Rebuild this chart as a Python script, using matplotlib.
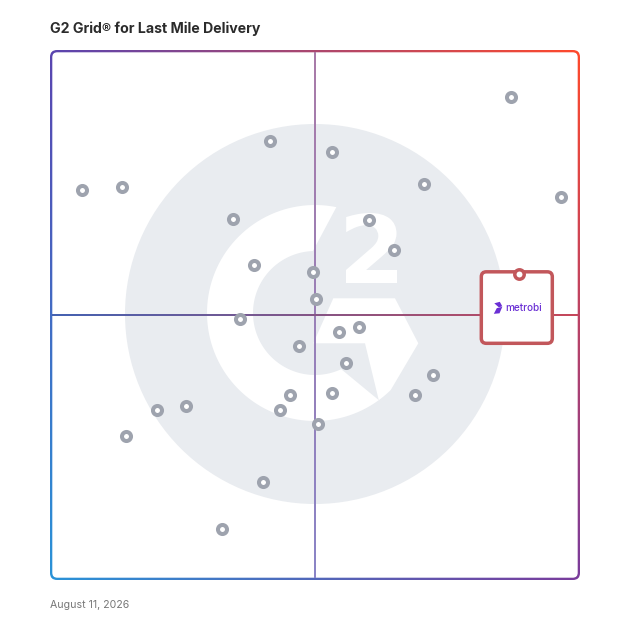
import numpy as np
import matplotlib
matplotlib.use('Agg')
import matplotlib.pyplot as plt
import matplotlib.colors as mcolors
from matplotlib.patches import FancyBboxPatch, Circle, Polygon, PathPatch
from matplotlib.collections import LineCollection
from matplotlib.textpath import TextPath
from matplotlib.font_manager import FontProperties
from matplotlib.transforms import Affine2D

# ---------------- data ----------------
title = "G2 Grid\u00ae for Last Mile Delivery"
date_label = "August 11, 2026"
# satisfaction (x) and market presence (y), 0-100 scale
satisfaction = [87.1, 41.4, 53.2, 5.9, 13.4, 70.6, 96.6, 34.5, 60.2, 38.4,
                65.0, 49.6, 50.1, 35.8, 54.6, 58.3, 46.9, 55.9, 72.4, 68.9,
                53.3, 45.2, 43.4, 25.6, 20.1, 14.2, 50.6, 40.2, 32.4]
presence = [91.3, 82.9, 80.9, 73.7, 74.2, 74.8, 72.3, 68.2, 67.9, 59.5,
            62.3, 58.2, 53.0, 49.3, 46.8, 47.7, 44.1, 41.0, 38.6, 34.8,
            35.2, 34.8, 32.0, 32.8, 32.0, 27.1, 29.4, 18.4, 9.5]
featured_name = "metrobi"
featured_sat = 88.6
featured_pres = 57.8

W = 628
fig = plt.figure(figsize=(6.28, 6.28), dpi=100)
fig.patch.set_facecolor('white')

# background / decoration axes in pixel units
bg = fig.add_axes([0, 0, 1, 1], zorder=0)

# gradient frame
n = 256
u = np.linspace(0, 1, n)
TL, TR, BL, BR = [np.array(mcolors.to_rgb(c)) for c in ('#5a45b0', '#ff4a2c', '#2a93d8', '#7a3c9c')]
top = (1 - u)[:, None] * TL + u[:, None] * TR
bot = (1 - u)[:, None] * BL + u[:, None] * BR
img = (1 - u)[:, None, None] * top[None, :, :] + u[:, None, None] * bot[None, :, :]
im = bg.imshow(img, extent=(50, 580, 580, 50), origin='upper', interpolation='bilinear',
               zorder=1, aspect='auto')
frame = FancyBboxPatch((50, 50), 530, 530, boxstyle='round,pad=0,rounding_size=7',
                       facecolor='none', edgecolor='none', transform=bg.transData)
bg.add_patch(frame)
im.set_clip_path(frame)
inner = FancyBboxPatch((52.3, 52.3), 525.4, 525.4, boxstyle='round,pad=0,rounding_size=5',
                       facecolor='white', edgecolor='none', zorder=2)
bg.add_patch(inner)

# G2 watermark
def arc(cx, cy, r, a0, a1, k=90):
    th = np.radians(np.linspace(a0, a1, k))
    return np.c_[cx + r * np.cos(th), cy - r * np.sin(th)]

bg.add_patch(Circle((315, 314), 190, facecolor='#e9ecf0', edgecolor='none', zorder=3))
cx, cy, Ro, Ri = 315, 313, 108, 62
polyA = np.vstack([arc(cx, cy, Ro, 78.6, 306.2), arc(cx, cy, Ri, 295, 91.9)])
bg.add_patch(Polygon(polyA, closed=True, facecolor='white', edgecolor='none', zorder=4))
polyB = np.vstack([[(333.3, 298.3), (395, 298.3), (418.3, 343.3)],
                   arc(cx, cy, Ro, -45.5, -53.8, 10),
                   [(365, 343.3), (313.3, 343.3)]])
bg.add_patch(Polygon(polyB, closed=True, facecolor='white', edgecolor='none', zorder=4))
tp = TextPath((0, 0), '2', size=100, prop=FontProperties(family='DejaVu Sans', weight='bold'))
ext = tp.get_extents()
sx = 51 / ext.width
sy = 70 / ext.height
tr = Affine2D().translate(-ext.x0, -ext.y0).scale(sx, -sy).translate(346, 283)
bg.add_patch(PathPatch(tr.transform_path(tp), facecolor='white', edgecolor='none', zorder=4))

bg.set_xlim(0, W)
bg.set_ylim(W, 0)
bg.axis('off')

bg.text(50, 29, title, fontsize=10.2, fontweight='bold', family=['Inter', 'DejaVu Sans'],
        color='#2b2b2b', ha='left', va='center')
bg.text(50, 604.5, date_label, fontsize=7.6, family=['Inter', 'DejaVu Sans'],
        color='#777777', ha='left', va='center')

# main data axes
ax = fig.add_axes([51 / W, 49 / W, 528 / W, 528 / W], zorder=2)
ax.set_xlim(0, 100)
ax.set_ylim(0, 100)
ax.patch.set_alpha(0)
ax.axis('off')

def grad_line(p0, p1, c0, c1, k=60):
    t = np.linspace(0, 1, k + 1)
    pts = np.c_[p0[0] + (p1[0] - p0[0]) * t, p0[1] + (p1[1] - p0[1]) * t]
    segs = np.stack([pts[:-1], pts[1:]], axis=1)
    a, b = np.array(mcolors.to_rgb(c0)), np.array(mcolors.to_rgb(c1))
    tm = (t[:-1] + t[1:]) / 2
    cols = (1 - tm)[:, None] * a + tm[:, None] * b
    lc = LineCollection(segs, colors=cols, linewidths=1.1, zorder=1, capstyle='projecting',
                        antialiaseds=False)
    return lc

ax.add_collection(grad_line((50, 99.6), (50, 0.4), '#a97ba8', '#8a84c6'))
ax.add_collection(grad_line((0.4, 50), (99.6, 50), '#4462b2', '#c6485a'))

ax.scatter(satisfaction, presence, s=6.5 ** 2, facecolor='white', edgecolor='#9ea3ae',
           linewidths=2.9, zorder=3)

# featured product callout
top_ax = fig.add_axes([0, 0, 1, 1], zorder=3)
top_ax.set_xlim(0, W)
top_ax.set_ylim(W, 0)
top_ax.patch.set_alpha(0)
top_ax.axis('off')
dx, dy = ax.transData.transform((featured_sat, featured_pres))
bx, by = dx, W - dy
red = '#c2575b'
top_ax.add_patch(FancyBboxPatch((bx - 37.5, by - 2), 71, 71.5,
                                boxstyle='round,pad=0,rounding_size=5',
                                facecolor='white', edgecolor=red, linewidth=2.5, zorder=5))
top_ax.plot([bx], [by], marker='o', markersize=6.8, markerfacecolor='white',
            markeredgecolor=red, markeredgewidth=2.5, zorder=6)
purple = '#6a2fd4'
icx, icy = bx - 20.5, by + 34
top_ax.add_patch(Polygon([(icx - 4, icy - 4.5), (icx + 1.5, icy - 6), (icx + 4, icy - 1.5),
                          (icx + 0.5, icy - 0.5)], closed=True, facecolor=purple,
                         edgecolor='none', zorder=6))
top_ax.add_patch(Polygon([(icx - 1.5, icy + 0.3), (icx + 4, icy - 1), (icx + 1.2, icy + 5.5),
                          (icx - 4.5, icy + 6)], closed=True, facecolor=purple,
                         edgecolor='none', zorder=6))
top_ax.text(bx - 13.5, by + 34.5, featured_name, fontsize=7.2, fontweight='medium',
            family=['Inter', 'DejaVu Sans'], color=purple, ha='left', va='center', zorder=7)

fig.savefig('out.png', dpi=100, facecolor='white')
